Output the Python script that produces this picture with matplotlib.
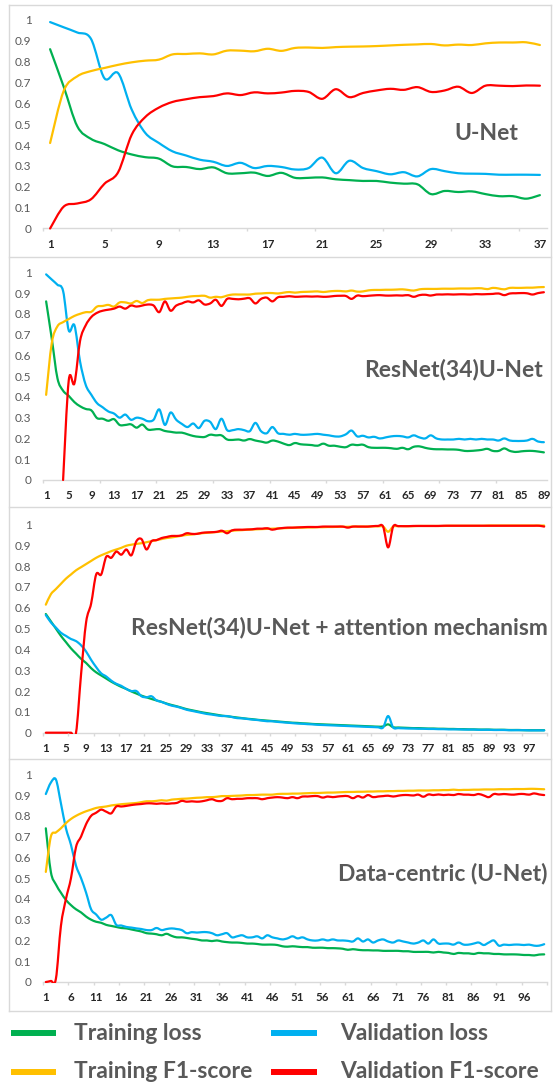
import numpy as np
import matplotlib
matplotlib.use("Agg")
import matplotlib.pyplot as plt
from matplotlib.lines import Line2D
from matplotlib.path import Path
from matplotlib.patches import PathPatch, Rectangle

W, H = 553, 1086
GREEN, BLUE, ORANGE, RED = "#00B050", "#00B0F0", "#FFC000", "#FF0000"
TXT = "#595959"
EDGE = "#D9D9D9"

plt.rcParams.update({"font.family": ["Lato", "DejaVu Sans"]})

# ---- U-Net (37 epochs)
unet_train_loss = [0.86, 0.68, 0.49, 0.43, 0.405, 0.375, 0.355, 0.342, 0.335, 0.298,
                   0.295, 0.285, 0.293, 0.265, 0.265, 0.268, 0.252, 0.267, 0.243, 0.243,
                   0.245, 0.236, 0.232, 0.228, 0.228, 0.22, 0.215, 0.212, 0.165, 0.18,
                   0.175, 0.178, 0.165, 0.155, 0.155, 0.143, 0.16]
unet_val_loss = [0.99, 0.965, 0.94, 0.91, 0.72, 0.745, 0.57, 0.458, 0.41, 0.37,
                 0.35, 0.33, 0.32, 0.30, 0.315, 0.29, 0.30, 0.295, 0.283, 0.29,
                 0.34, 0.265, 0.325, 0.29, 0.275, 0.26, 0.27, 0.25, 0.285, 0.275,
                 0.265, 0.263, 0.262, 0.258, 0.258, 0.258, 0.257]
unet_train_f1 = [0.41, 0.66, 0.73, 0.755, 0.77, 0.785, 0.797, 0.805, 0.81, 0.835,
                 0.837, 0.84, 0.835, 0.853, 0.853, 0.85, 0.862, 0.852, 0.866, 0.868,
                 0.866, 0.87, 0.872, 0.873, 0.875, 0.878, 0.881, 0.883, 0.885, 0.878,
                 0.882, 0.88, 0.888, 0.892, 0.892, 0.893, 0.88]
unet_val_f1 = [0.0, 0.105, 0.12, 0.14, 0.215, 0.27, 0.45, 0.535, 0.58, 0.607,
               0.62, 0.63, 0.635, 0.648, 0.64, 0.653, 0.648, 0.652, 0.66, 0.655,
               0.622, 0.668, 0.63, 0.65, 0.662, 0.67, 0.665, 0.678, 0.655, 0.662,
               0.68, 0.65, 0.685, 0.685, 0.683, 0.686, 0.685]

# ---- ResNet(34)U-Net (89 epochs)
res_train_loss = [0.86, 0.68, 0.49, 0.43, 0.405, 0.375, 0.355, 0.342, 0.335, 0.298,
                  0.295, 0.285, 0.293, 0.265, 0.265, 0.268, 0.252, 0.267, 0.243, 0.243,
                  0.245, 0.236, 0.232, 0.228, 0.228, 0.22, 0.212, 0.208, 0.207, 0.218,
                  0.215, 0.215, 0.195, 0.193, 0.195, 0.19, 0.197, 0.19, 0.185, 0.18,
                  0.19, 0.185, 0.175, 0.168, 0.178, 0.172, 0.17, 0.168, 0.165, 0.175,
                  0.165, 0.165, 0.16, 0.158, 0.17, 0.168, 0.17, 0.158, 0.155, 0.155,
                  0.155, 0.153, 0.15, 0.155, 0.148, 0.16, 0.162, 0.155, 0.15, 0.148,
                  0.148, 0.147, 0.147, 0.145, 0.14, 0.14, 0.142, 0.145, 0.15, 0.14,
                  0.14, 0.152, 0.14, 0.135, 0.138, 0.14, 0.14, 0.137, 0.133]
res_val_loss = [0.99, 0.965, 0.94, 0.91, 0.72, 0.745, 0.57, 0.458, 0.41, 0.37,
                0.35, 0.33, 0.32, 0.30, 0.315, 0.29, 0.30, 0.295, 0.283, 0.29,
                0.34, 0.265, 0.325, 0.29, 0.27, 0.255, 0.272, 0.25, 0.285, 0.28,
                0.245, 0.295, 0.24, 0.24, 0.245, 0.24, 0.235, 0.275, 0.235, 0.225,
                0.255, 0.225, 0.222, 0.218, 0.222, 0.218, 0.218, 0.22, 0.222, 0.218,
                0.215, 0.21, 0.21, 0.22, 0.238, 0.21, 0.213, 0.205, 0.208, 0.20,
                0.205, 0.21, 0.212, 0.21, 0.205, 0.215, 0.205, 0.20, 0.215, 0.20,
                0.195, 0.195, 0.195, 0.198, 0.195, 0.198, 0.195, 0.198, 0.195, 0.195,
                0.19, 0.2, 0.19, 0.188, 0.188, 0.19, 0.198, 0.185, 0.182]
res_train_f1 = [0.41, 0.66, 0.74, 0.76, 0.775, 0.79, 0.80, 0.808, 0.81, 0.835,
                0.838, 0.843, 0.835, 0.855, 0.855, 0.85, 0.862, 0.852, 0.866, 0.868,
                0.868, 0.872, 0.874, 0.876, 0.878, 0.882, 0.885, 0.886, 0.887, 0.878,
                0.882, 0.88, 0.888, 0.893, 0.893, 0.893, 0.893, 0.897, 0.898, 0.9,
                0.9, 0.898, 0.902, 0.905, 0.902, 0.905, 0.906, 0.907, 0.908, 0.905,
                0.908, 0.91, 0.91, 0.908, 0.912, 0.907, 0.908, 0.913, 0.915, 0.915,
                0.916, 0.916, 0.917, 0.918, 0.915, 0.912, 0.918, 0.92, 0.92, 0.92,
                0.921, 0.921, 0.921, 0.922, 0.922, 0.922, 0.923, 0.923, 0.919, 0.925,
                0.922, 0.918, 0.925, 0.925, 0.925, 0.926, 0.926, 0.928, 0.929]
res_val_f1 = [None, None, None, 0.0, 0.48, 0.465, 0.67, 0.745, 0.785, 0.805,
              0.815, 0.82, 0.825, 0.835, 0.825, 0.84, 0.835, 0.84, 0.845, 0.84,
              0.808, 0.86, 0.815, 0.84, 0.85, 0.86, 0.855, 0.865, 0.845, 0.85,
              0.868, 0.838, 0.872, 0.872, 0.87, 0.873, 0.875, 0.85, 0.872, 0.878,
              0.86, 0.88, 0.882, 0.885, 0.882, 0.883, 0.884, 0.883, 0.884, 0.882,
              0.883, 0.886, 0.887, 0.886, 0.872, 0.888, 0.885, 0.887, 0.889, 0.89,
              0.888, 0.888, 0.889, 0.888, 0.89, 0.882, 0.89, 0.892, 0.888, 0.893,
              0.893, 0.894, 0.893, 0.894, 0.894, 0.893, 0.895, 0.894, 0.895, 0.896,
              0.898, 0.89, 0.898, 0.899, 0.9, 0.899, 0.893, 0.9, 0.904]

# ---- ResNet(34)U-Net + attention (100 epochs)
att_train_loss = [0.57, 0.535, 0.5, 0.465, 0.435, 0.405, 0.38, 0.355, 0.335, 0.31,
                  0.29, 0.275, 0.26, 0.245, 0.232, 0.22, 0.21, 0.198, 0.188, 0.178,
                  0.17, 0.162, 0.155, 0.148, 0.14, 0.133, 0.127, 0.12, 0.113, 0.108,
                  0.103, 0.098, 0.094, 0.09, 0.086, 0.082, 0.079, 0.076, 0.073, 0.07,
                  0.067, 0.065, 0.062, 0.06, 0.058, 0.056, 0.054, 0.052, 0.05, 0.048,
                  0.047, 0.045, 0.044, 0.042, 0.041, 0.04, 0.039, 0.038, 0.037, 0.036,
                  0.035, 0.034, 0.033, 0.032, 0.031, 0.03, 0.029, 0.03, 0.04, 0.026,
                  0.025, 0.024, 0.023, 0.022, 0.022, 0.021, 0.02, 0.02, 0.019, 0.019,
                  0.018, 0.018, 0.017, 0.017, 0.016, 0.016, 0.015, 0.015, 0.015, 0.014,
                  0.014, 0.014, 0.013, 0.013, 0.013, 0.012, 0.012, 0.012, 0.012, 0.012]
att_val_loss = [0.565, 0.53, 0.505, 0.48, 0.465, 0.45, 0.44, 0.42, 0.39, 0.35,
                0.315, 0.285, 0.27, 0.25, 0.235, 0.225, 0.21, 0.2, 0.2, 0.175,
                0.17, 0.175, 0.155, 0.148, 0.138, 0.13, 0.125, 0.118, 0.11, 0.105,
                0.1, 0.095, 0.09, 0.087, 0.083, 0.08, 0.08, 0.075, 0.07, 0.069,
                0.066, 0.063, 0.061, 0.058, 0.055, 0.055, 0.052, 0.05, 0.048, 0.046,
                0.044, 0.043, 0.041, 0.04, 0.038, 0.037, 0.036, 0.035, 0.034, 0.033,
                0.032, 0.031, 0.03, 0.029, 0.028, 0.027, 0.026, 0.025, 0.08, 0.025,
                0.022, 0.021, 0.02, 0.02, 0.019, 0.019, 0.018, 0.018, 0.017, 0.017,
                0.016, 0.016, 0.016, 0.015, 0.015, 0.015, 0.014, 0.014, 0.014, 0.013,
                0.013, 0.013, 0.012, 0.012, 0.012, 0.012, 0.011, 0.011, 0.011, 0.011]
att_train_f1 = [0.615, 0.665, 0.69, 0.715, 0.74, 0.76, 0.78, 0.795, 0.81, 0.825,
                0.84, 0.852, 0.862, 0.872, 0.88, 0.888, 0.898, 0.903, 0.907, 0.91,
                0.915, 0.92, 0.925, 0.93, 0.935, 0.938, 0.942, 0.946, 0.95, 0.952,
                0.955, 0.958, 0.96, 0.962, 0.964, 0.966, 0.968, 0.97, 0.972, 0.973,
                0.975, 0.976, 0.977, 0.978, 0.979, 0.98, 0.981, 0.982, 0.983, 0.984,
                0.985, 0.985, 0.986, 0.986, 0.987, 0.987, 0.988, 0.988, 0.989, 0.989,
                0.989, 0.99, 0.99, 0.99, 0.99, 0.991, 0.991, 0.99, 0.965, 0.99,
                0.992, 0.992, 0.992, 0.992, 0.993, 0.993, 0.993, 0.993, 0.993, 0.993,
                0.994, 0.994, 0.994, 0.994, 0.994, 0.994, 0.994, 0.994, 0.995, 0.995,
                0.995, 0.995, 0.995, 0.995, 0.995, 0.995, 0.995, 0.995, 0.995, 0.995]
att_val_f1 = [0.0, 0.0, 0.0, 0.0, 0.0, 0.0, 0.0, 0.28, 0.53, 0.62,
              0.76, 0.76, 0.845, 0.84, 0.87, 0.855, 0.88, 0.852, 0.92, 0.93,
              0.88, 0.92, 0.925, 0.935, 0.94, 0.945, 0.945, 0.948, 0.958, 0.955,
              0.955, 0.96, 0.962, 0.963, 0.965, 0.97, 0.958, 0.972, 0.975, 0.975,
              0.976, 0.977, 0.98, 0.98, 0.982, 0.975, 0.98, 0.983, 0.985, 0.985,
              0.986, 0.987, 0.988, 0.988, 0.988, 0.99, 0.99, 0.99, 0.99, 0.99,
              0.985, 0.99, 0.99, 0.99, 0.99, 0.992, 0.993, 0.99, 0.89, 0.99,
              0.992, 0.992, 0.992, 0.993, 0.993, 0.993, 0.993, 0.993, 0.993, 0.994,
              0.994, 0.994, 0.994, 0.994, 0.994, 0.994, 0.994, 0.994, 0.994, 0.994,
              0.994, 0.994, 0.994, 0.994, 0.994, 0.994, 0.994, 0.994, 0.994, 0.99]

# ---- Data-centric (U-Net) (100 epochs)
dc_train_loss = [0.74, 0.53, 0.47, 0.43, 0.395, 0.37, 0.35, 0.335, 0.315, 0.3,
                 0.29, 0.285, 0.275, 0.27, 0.265, 0.26, 0.258, 0.253, 0.248, 0.243,
                 0.235, 0.233, 0.23, 0.225, 0.232, 0.222, 0.215, 0.215, 0.212, 0.208,
                 0.205, 0.2, 0.2, 0.197, 0.2, 0.195, 0.192, 0.19, 0.19, 0.188,
                 0.185, 0.185, 0.183, 0.18, 0.18, 0.18, 0.178, 0.172, 0.17, 0.172,
                 0.17, 0.168, 0.168, 0.165, 0.165, 0.165, 0.163, 0.163, 0.162, 0.16,
                 0.155, 0.158, 0.155, 0.153, 0.153, 0.152, 0.152, 0.15, 0.15, 0.15,
                 0.15, 0.148, 0.148, 0.145, 0.145, 0.145, 0.145, 0.142, 0.145, 0.142,
                 0.14, 0.135, 0.14, 0.138, 0.138, 0.135, 0.14, 0.138, 0.138, 0.135,
                 0.135, 0.133, 0.133, 0.133, 0.132, 0.13, 0.13, 0.128, 0.132, 0.133]
dc_val_loss = [0.905, 0.96, 0.975, 0.86, 0.74, 0.66, 0.56, 0.5, 0.43, 0.35,
               0.325, 0.3, 0.31, 0.322, 0.275, 0.272, 0.265, 0.262, 0.258, 0.255,
               0.25, 0.25, 0.26, 0.25, 0.255, 0.258, 0.255, 0.25, 0.235, 0.24,
               0.238, 0.24, 0.24, 0.235, 0.225, 0.23, 0.235, 0.215, 0.22, 0.225,
               0.215, 0.215, 0.22, 0.21, 0.225, 0.215, 0.21, 0.205, 0.21, 0.22,
               0.21, 0.215, 0.205, 0.2, 0.2, 0.205, 0.2, 0.205, 0.2, 0.2,
               0.198, 0.195, 0.21, 0.195, 0.205, 0.19, 0.2, 0.205, 0.195, 0.19,
               0.2, 0.195, 0.19, 0.185, 0.19, 0.2, 0.185, 0.205, 0.185, 0.185,
               0.185, 0.18, 0.19, 0.18, 0.18, 0.185, 0.19, 0.178, 0.19, 0.2,
               0.175, 0.18, 0.178, 0.18, 0.18, 0.178, 0.18, 0.175, 0.175, 0.182]
dc_train_f1 = [0.53, 0.7, 0.72, 0.74, 0.765, 0.785, 0.8, 0.812, 0.822, 0.83,
               0.838, 0.842, 0.845, 0.85, 0.853, 0.856, 0.858, 0.86, 0.862, 0.866,
               0.87, 0.87, 0.872, 0.875, 0.873, 0.878, 0.88, 0.882, 0.883, 0.885,
               0.887, 0.888, 0.89, 0.89, 0.892, 0.895, 0.895, 0.896, 0.897, 0.898,
               0.9, 0.9, 0.901, 0.902, 0.902, 0.902, 0.905, 0.906, 0.906, 0.907,
               0.907, 0.908, 0.909, 0.91, 0.91, 0.911, 0.912, 0.912, 0.913, 0.914,
               0.915, 0.915, 0.916, 0.916, 0.917, 0.917, 0.918, 0.918, 0.919, 0.919,
               0.92, 0.92, 0.921, 0.921, 0.922, 0.922, 0.922, 0.923, 0.923, 0.924,
               0.924, 0.926, 0.924, 0.925, 0.925, 0.926, 0.926, 0.927, 0.927, 0.927,
               0.928, 0.928, 0.928, 0.929, 0.929, 0.929, 0.93, 0.93, 0.929, 0.928]
dc_val_f1 = [0.0, 0.005, 0.015, 0.27, 0.4, 0.5, 0.65, 0.7, 0.76, 0.8,
             0.815, 0.83, 0.82, 0.812, 0.845, 0.845, 0.848, 0.852, 0.855, 0.857,
             0.86, 0.86, 0.858, 0.86, 0.858, 0.86, 0.862, 0.872, 0.868, 0.87,
             0.868, 0.87, 0.875, 0.88, 0.872, 0.872, 0.885, 0.88, 0.882, 0.882,
             0.885, 0.885, 0.885, 0.88, 0.885, 0.888, 0.89, 0.888, 0.885, 0.89,
             0.885, 0.893, 0.893, 0.895, 0.895, 0.888, 0.893, 0.89, 0.893, 0.895,
             0.895, 0.885, 0.895, 0.888, 0.9, 0.89, 0.893, 0.895, 0.897, 0.893,
             0.897, 0.9, 0.9, 0.898, 0.902, 0.892, 0.903, 0.9, 0.903, 0.9,
             0.902, 0.9, 0.905, 0.902, 0.902, 0.9, 0.905, 0.898, 0.89, 0.905,
             0.903, 0.905, 0.903, 0.902, 0.905, 0.905, 0.902, 0.908, 0.903, 0.9]

SERIES = ["Training loss", "Validation loss", "Training F1-score", "Validation F1-score"]
COLORS = [GREEN, BLUE, ORANGE, RED]
YTICKS = [0, 0.1, 0.2, 0.3, 0.4, 0.5, 0.6, 0.7, 0.8, 0.9, 1]
YLABELS = ["0", "0.1", "0.2", "0.3", "0.4", "0.5", "0.6", "0.7", "0.8", "0.9", "1"]

# pixel layout: (title, data, label step, tick step, y of 0, y of 1, title x, title y)
PANELS = [
    ("U-Net", (unet_train_loss, unet_val_loss, unet_train_f1, unet_val_f1),
     4, 5, 228.5, 20.0, 518, 133),
    ("ResNet(34)U-Net", (res_train_loss, res_val_loss, res_train_f1, res_val_f1),
     4, 10, 480.0, 272.3, 543, 370),
    ("ResNet(34)U-Net + attention mechanism",
     (att_train_loss, att_val_loss, att_train_f1, att_val_f1),
     4, 5, 732.7, 524.5, 548, 627),
    ("Data-centric (U-Net)", (dc_train_loss, dc_val_loss, dc_train_f1, dc_val_f1),
     5, 5, 982.0, 774.3, 547, 874),
]
AX_LEFT, AX_RIGHT = 43.3, 546.7
BORDERS_Y = [5, 257, 507, 759, 1011]
BORDER_X = (9, 551)


def fx(px):
    return px / W


def fy(py):
    return 1 - py / H


def smooth_path(x, y):
    """Excel-style smoothed line: cubic Bezier through each data point."""
    verts, codes = [], []
    ok = ~np.isnan(y)
    i = 0
    n = len(y)
    while i < n:
        if not ok[i]:
            i += 1
            continue
        j = i
        while j + 1 < n and ok[j + 1]:
            j += 1
        px, py = x[i:j + 1], y[i:j + 1]
        verts.append((px[0], py[0]))
        codes.append(Path.MOVETO)
        m = len(px)
        for k in range(m - 1):
            k0, k2 = max(k - 1, 0), min(k + 2, m - 1)
            c1 = (px[k] + (px[k + 1] - px[k0]) / 6, py[k] + (py[k + 1] - py[k0]) / 6)
            c2 = (px[k + 1] - (px[k2] - px[k]) / 6, py[k + 1] - (py[k2] - py[k]) / 6)
            verts += [c1, c2, (px[k + 1], py[k + 1])]
            codes += [Path.CURVE4] * 3
        i = j + 1
    return Path(verts, codes)


fig = plt.figure(figsize=(W / 100, H / 100), dpi=100)
fig.patch.set_facecolor("white")

for title, data, lstep, tstep, y0, y1, tx, ty in PANELS:
    n = len(data[0])
    ax = fig.add_axes([fx(AX_LEFT), fy(y0), (AX_RIGHT - AX_LEFT) / W, (y0 - y1) / H])
    ax.patch.set_alpha(0)
    x = np.arange(1, n + 1, dtype=float)
    # clip just below the zero line so smoothing overshoot does not dip under the axis
    clip = Rectangle((0, -0.006), n + 1, 1.2, transform=ax.transData)
    for vals, col in zip(data, COLORS):
        v = np.array([np.nan if a is None else a for a in vals], dtype=float)
        patch = PathPatch(smooth_path(x, v), fill=False, edgecolor=col,
                          lw=1.6, joinstyle="round", capstyle="round")
        ax.add_patch(patch)
        patch.set_clip_path(clip)
    ax.set_xlim(0.5, n + 0.5)
    ax.set_ylim(0, 1)
    ax.set_yticks(YTICKS)
    ax.set_yticklabels(YLABELS, fontsize=8.5, color=TXT)
    ax.tick_params(axis="y", length=0, pad=8.5)
    lab = list(range(1, n + 1, lstep))
    ax.set_xticks(lab)
    ax.set_xticklabels([str(v) for v in lab], fontsize=8.3, color="#262626",
                       fontweight="bold")
    ax.set_xticks(np.arange(0.5, n + 0.6, tstep), minor=True)
    ax.tick_params(axis="x", which="major", length=0, pad=7.5)
    ax.tick_params(axis="x", which="minor", length=2.5, color=EDGE, width=1)
    for s in ("top", "right", "left"):
        ax.spines[s].set_visible(False)
    ax.spines["bottom"].set_color(EDGE)
    ax.spines["bottom"].set_linewidth(1)
    ax.spines["bottom"].set_zorder(0)
    fig.text(fx(tx), fy(ty), title, ha="right", va="center", fontsize=16.5,
             fontweight="bold", color=TXT)

# panel frames
for yb in BORDERS_Y:
    fig.add_artist(Line2D([fx(BORDER_X[0]), fx(BORDER_X[1])], [fy(yb), fy(yb)],
                          color=EDGE, lw=1))
for xb in BORDER_X:
    fig.add_artist(Line2D([fx(xb), fx(xb)], [fy(BORDERS_Y[0]), fy(BORDERS_Y[-1])],
                          color=EDGE, lw=1))

# legend, two rows x two columns
LEG_ROWS = [1033, 1072]
LEG_HANDLE_X = [(10.6, 56.4), (271, 317)]
LEG_TEXT_X = [74, 340]
for i, (name, col) in enumerate(zip(SERIES, COLORS)):
    r, c = divmod(i, 2)
    yy = fy(LEG_ROWS[r])
    hx = LEG_HANDLE_X[c]
    fig.add_artist(Line2D([fx(hx[0]), fx(hx[1])], [yy, yy], color=col, lw=4.3,
                          solid_capstyle="butt"))
    fig.text(fx(LEG_TEXT_X[c]), yy, name, ha="left", va="center", fontsize=16.5,
             fontweight="bold", color=TXT)

fig.savefig("out.png", dpi=100, facecolor="white")
